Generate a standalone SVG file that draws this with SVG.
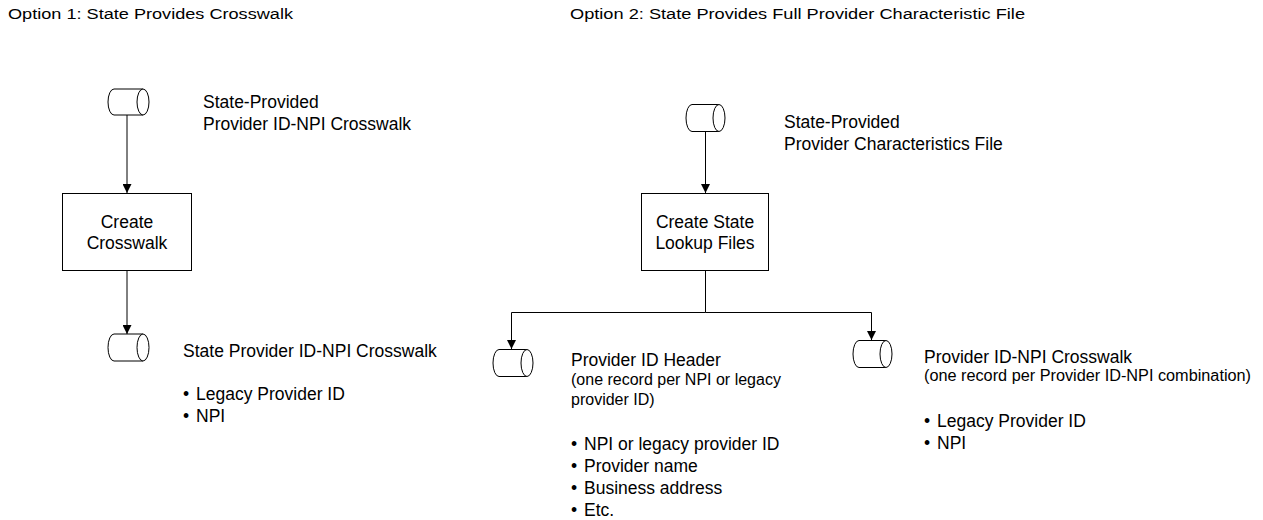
<svg xmlns="http://www.w3.org/2000/svg" width="1263" height="520" viewBox="0 0 1263 520">
<style>
text{font-family:"Liberation Sans",Arial,sans-serif;fill:#000}
.t{font-size:15.5px}
.b{font-size:17.5px}
.s{font-size:16px}
.shape{fill:#fff;stroke:#000;stroke-width:1}
.conn{fill:none;stroke:#000;stroke-width:1}
</style>
<defs>
<marker id="ah" viewBox="0 0 10 10" refX="10" refY="5" markerWidth="9" markerHeight="9" markerUnits="userSpaceOnUse" orient="auto">
<path d="M0,0 L10,5 L0,10 z" fill="#000"/>
</marker>
</defs>
<g id="titles">
<text class="t" x="8" y="19" textLength="285" lengthAdjust="spacingAndGlyphs">Option 1: State Provides Crosswalk</text>
<text class="t" x="570" y="19" textLength="455" lengthAdjust="spacingAndGlyphs">Option 2: State Provides Full Provider Characteristic File</text>
</g>
<g id="connectors">
<line class="conn" x1="127" y1="115" x2="127" y2="193" marker-end="url(#ah)"/>
<line class="conn" x1="127" y1="270" x2="127" y2="334" marker-end="url(#ah)"/>
<line class="conn" x1="705.5" y1="131" x2="705.5" y2="193" marker-end="url(#ah)"/>
<polyline class="conn" points="705.5,270 705.5,312.5 511.5,312.5 511.5,349" marker-end="url(#ah)"/>
<polyline class="conn" points="705.5,312.5 871.5,312.5 871.5,340" marker-end="url(#ah)"/>
</g>
<g id="src1">
<path class="shape" d="M114,89 H143 A6,13 0 0 1 143,115 H114 A6,13 0 0 1 114,89 Z"/>
<path class="shape" d="M143,89 A6,13 0 0 0 143,115"/>
<text class="b" x="203" y="108">State-Provided</text>
<text class="b" x="203" y="130">Provider ID-NPI Crosswalk</text>
</g>
<g id="proc1">
<rect class="shape" x="62.5" y="193.5" width="129" height="77"/>
<text class="b" x="127" y="228" text-anchor="middle">Create</text>
<text class="b" x="127" y="249" text-anchor="middle">Crosswalk</text>
</g>
<g id="out1">
<path class="shape" d="M114,334 H143 A6,13.5 0 0 1 143,361 H114 A6,13.5 0 0 1 114,334 Z"/>
<path class="shape" d="M143,334 A6,13.5 0 0 0 143,361"/>
<text class="b" x="183" y="357">State Provider ID-NPI Crosswalk</text>
<text class="b" x="183" y="400">•</text>
<text class="b" x="196" y="400">Legacy Provider ID</text>
<text class="b" x="183" y="422">•</text>
<text class="b" x="196" y="422">NPI</text>
</g>
<g id="src2">
<path class="shape" d="M692,104.5 H719 A6,13.5 0 0 1 719,131.5 H692 A6,13.5 0 0 1 692,104.5 Z"/>
<path class="shape" d="M719,104.5 A6,13.5 0 0 0 719,131.5"/>
<text class="b" x="784" y="128">State-Provided</text>
<text class="b" x="784" y="150">Provider Characteristics File</text>
</g>
<g id="proc2">
<rect class="shape" x="641.5" y="193.5" width="127" height="77"/>
<text class="b" x="705" y="228" text-anchor="middle">Create State</text>
<text class="b" x="705" y="249" text-anchor="middle">Lookup Files</text>
</g>
<g id="out2">
<path class="shape" d="M499,349.5 H527 A6,13.5 0 0 1 527,376.5 H499 A6,13.5 0 0 1 499,349.5 Z"/>
<path class="shape" d="M527,349.5 A6,13.5 0 0 0 527,376.5"/>
<text class="b" x="571" y="366">Provider ID Header</text>
<text class="s" x="571" y="385">(one record per NPI or legacy</text>
<text class="s" x="571" y="405">provider ID)</text>
<text class="b" x="571" y="450">•</text>
<text class="b" x="584" y="450">NPI or legacy provider ID</text>
<text class="b" x="571" y="472">•</text>
<text class="b" x="584" y="472">Provider name</text>
<text class="b" x="571" y="494">•</text>
<text class="b" x="584" y="494">Business address</text>
<text class="b" x="571" y="516">•</text>
<text class="b" x="584" y="516">Etc.</text>
</g>
<g id="out3">
<path class="shape" d="M859,340.5 H886 A6,13.5 0 0 1 886,367.5 H859 A6,13.5 0 0 1 859,340.5 Z"/>
<path class="shape" d="M886,340.5 A6,13.5 0 0 0 886,367.5"/>
<text class="b" x="924" y="363">Provider ID-NPI Crosswalk</text>
<text class="s" x="924" y="381" textLength="327" lengthAdjust="spacingAndGlyphs">(one record per Provider ID-NPI combination)</text>
<text class="b" x="924" y="427">•</text>
<text class="b" x="937" y="427">Legacy Provider ID</text>
<text class="b" x="924" y="449">•</text>
<text class="b" x="937" y="449">NPI</text>
</g>
</svg>
